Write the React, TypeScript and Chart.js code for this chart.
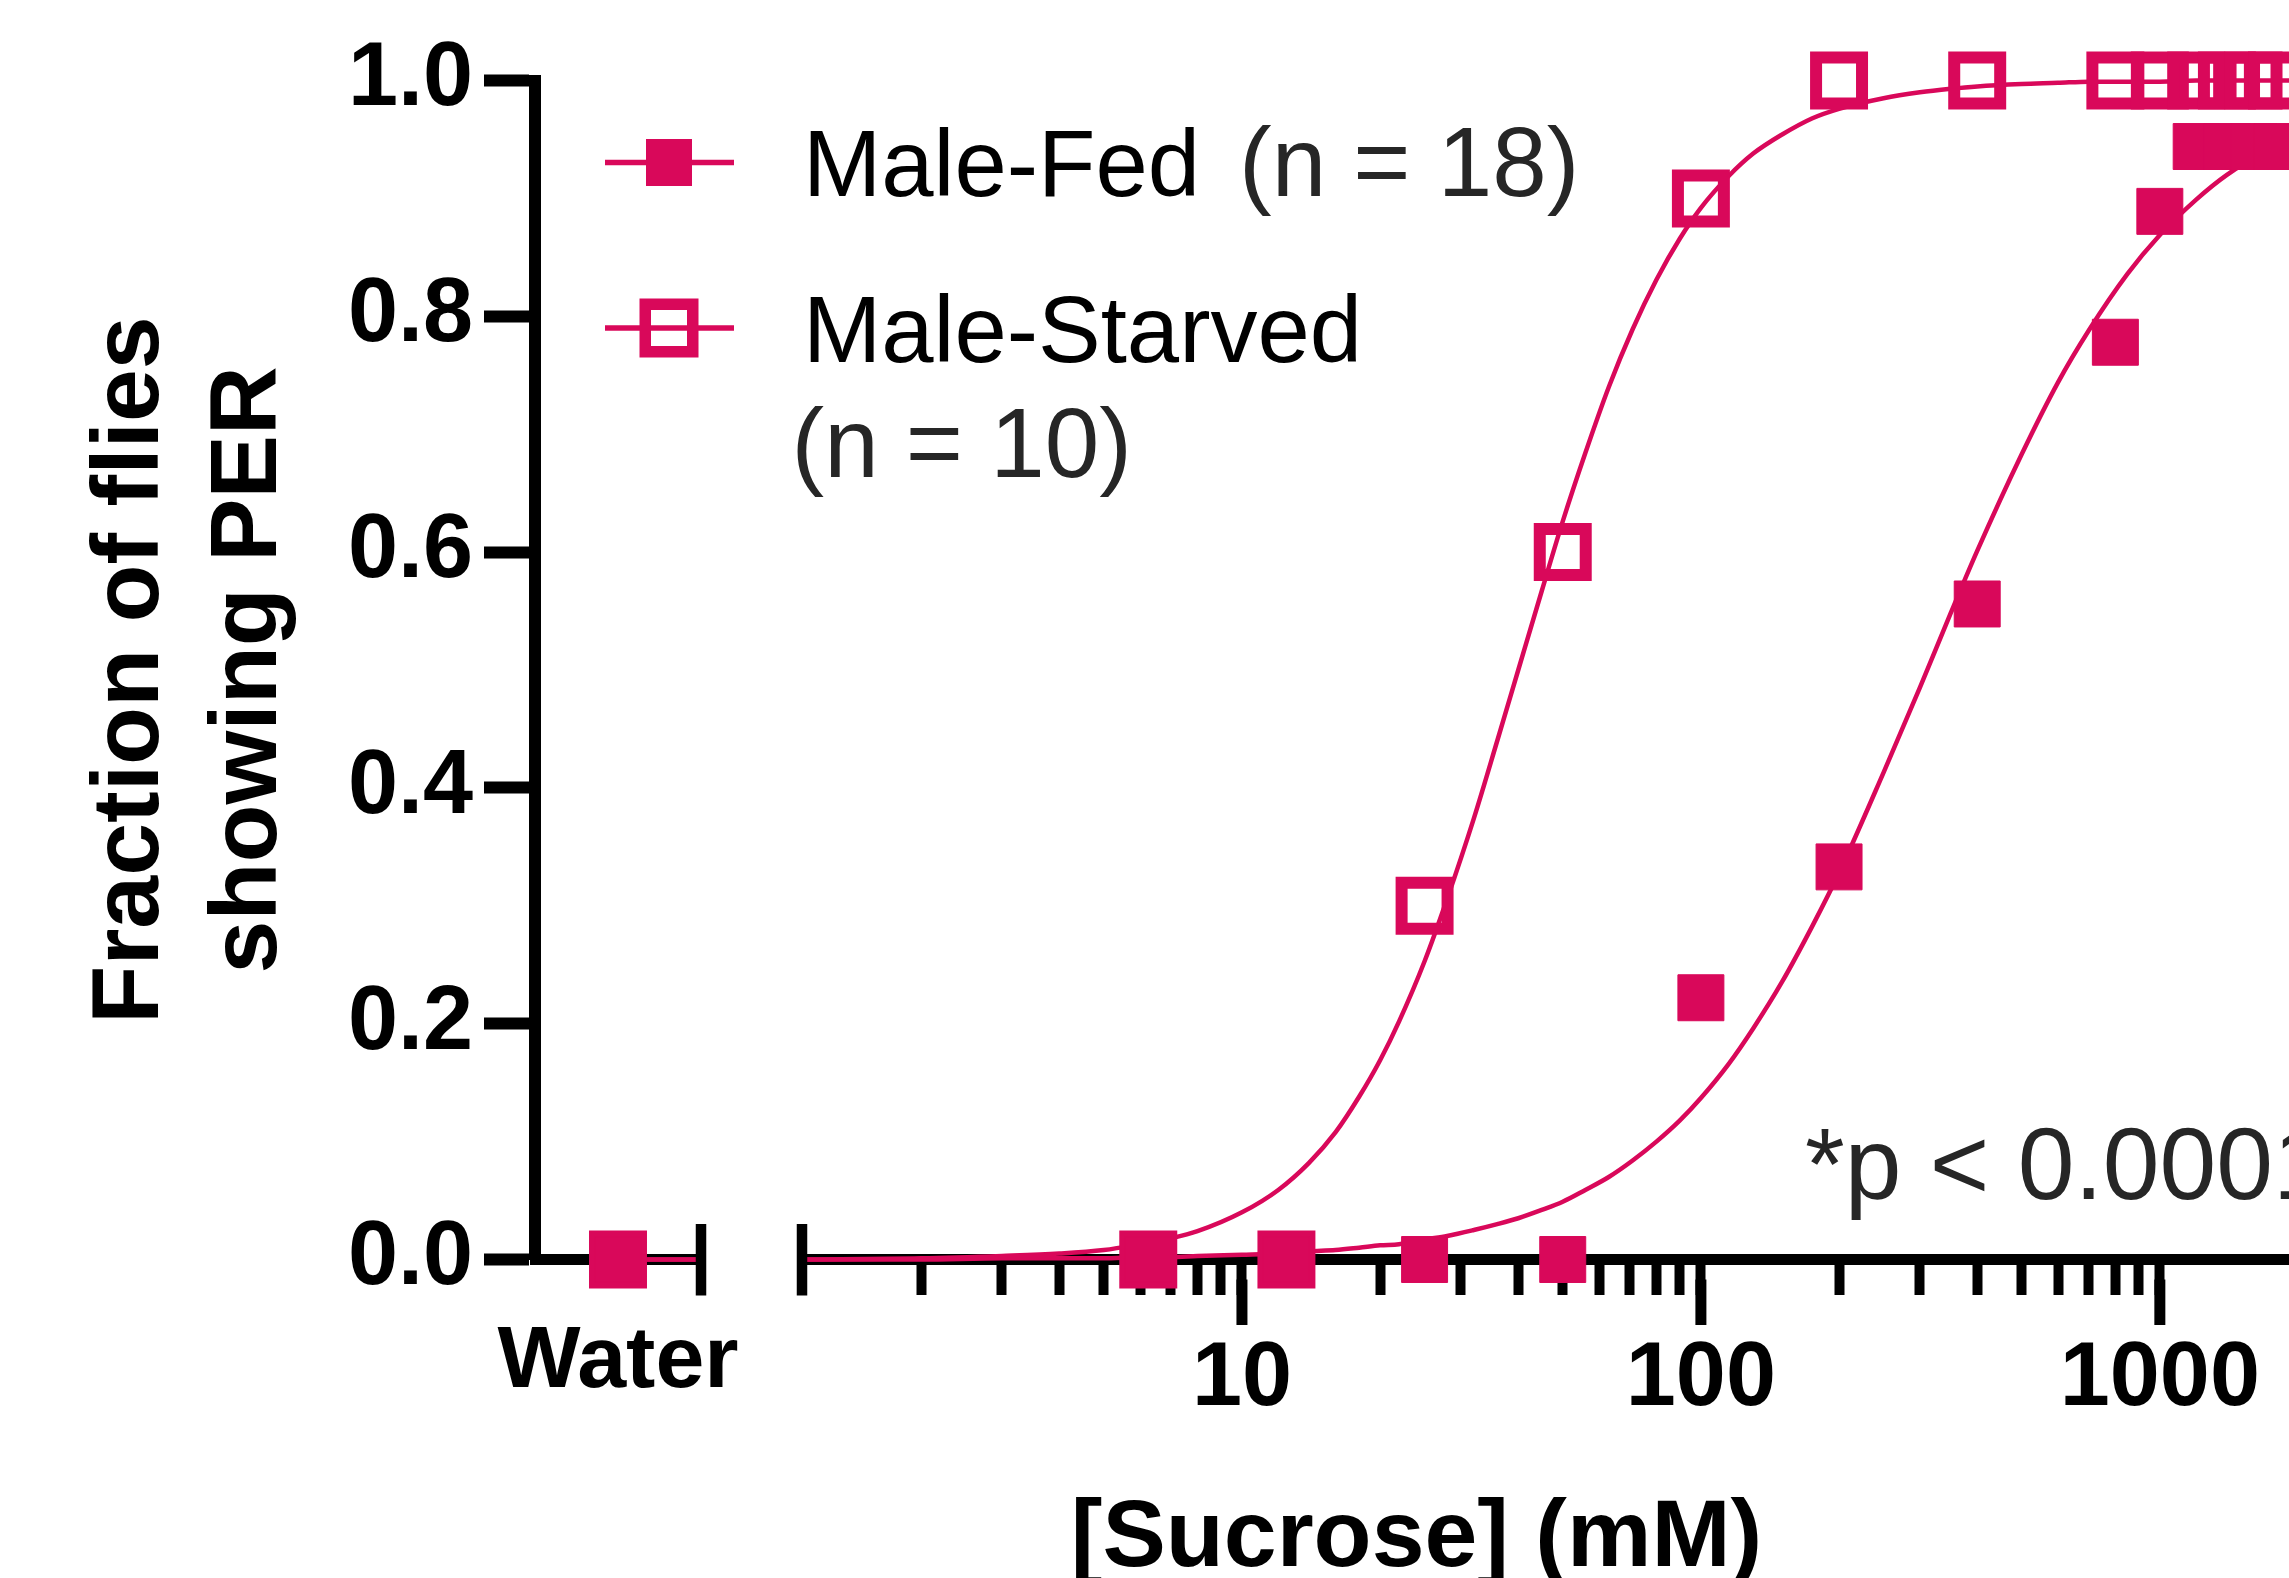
import React, { useEffect, useRef } from 'react';
import { Chart, registerables } from 'chart.js';

Chart.register(...registerables);

// ---------------- data ----------------
const WATER_LABEL = 'Water';
const WATER_POS = 1;
const FED_WATER = 0;
const STARVED_WATER = 0;

const CONC = [6.25, 12.5, 25, 50, 100, 200, 400, 800, 1000, 1200, 1400, 1600, 1800];
const FED_Y = [0, 0, 0, 0, 0.222, 0.333, 0.556, 0.778, 0.889, 0.944, 0.944, 0.944, 0.944];
const STARVED_Y = [0, 0, 0.3, 0.6, 0.9, 1, 1, 1, 1, 1, 1, 1, 1];

// fitted curves
const FIT_X = [1.1, 2, 3, 4, 5, 6, 7, 8, 10, 12, 14, 16, 18, 20, 22, 25, 28, 32, 36, 40, 45, 50, 56, 63, 71, 80, 90, 100, 115, 130, 150, 175, 200, 250, 300, 350, 400, 500, 600, 700, 850, 1000, 1200, 1400, 1700, 2000];
const STARVED_FIT = [0, 0.001, 0.003, 0.005, 0.008, 0.013, 0.018, 0.024, 0.04, 0.059, 0.082, 0.108, 0.138, 0.169, 0.202, 0.253, 0.306, 0.374, 0.44, 0.5, 0.567, 0.626, 0.684, 0.74, 0.789, 0.831, 0.866, 0.892, 0.919, 0.938, 0.954, 0.968, 0.976, 0.985, 0.99, 0.993, 0.995, 0.997, 0.998, 0.999, 0.999, 0.999, 1, 1, 1, 1];
const FED_FIT = [0, 0, 0.001, 0.001, 0.001, 0.002, 0.002, 0.003, 0.004, 0.005, 0.007, 0.008, 0.01, 0.012, 0.013, 0.017, 0.02, 0.025, 0.03, 0.035, 0.042, 0.049, 0.059, 0.07, 0.084, 0.1, 0.118, 0.137, 0.166, 0.196, 0.235, 0.283, 0.328, 0.413, 0.485, 0.548, 0.601, 0.683, 0.744, 0.788, 0.836, 0.869, 0.899, 0.92, 0.94, 0.953];
const WATER_FIT_X = [1, 2];
const FED_WATER_FIT = [0, 0];
const STARVED_WATER_FIT = [0, 0];

const LOG_TICKS = [2, 3, 4, 5, 6, 7, 8, 9, 10, 20, 30, 40, 50, 60, 70, 80, 90, 100, 200, 300, 400, 500, 600, 700, 800, 900, 1000, 2000];
const LOG_LABELS = [10, 100, 1000];
const LOG_MIN = 1.1;
const LOG_MAX = 2000;

const SERIES_NAMES = ['Male-Fed', 'Male-Starved'];
const SERIES_N = ['(n = 18)', '(n = 10)'];
const Y_TITLE = ['Fraction of flies', 'showing PER'];
const X_TITLE = '[Sucrose] (mM)';
const P_TEXT = '*p < 0.0001';

// ---------------- style ----------------
const MAGENTA = '#D9085A';
const FONT = "'Liberation Sans', Arial, Helvetica, sans-serif";
const TEXT_GRAY = '#262626';

const pts = (xs: number[], ys: number[]) => xs.map((x, i) => ({ x, y: ys[i] }));

const zeroPad = (s: any) => {
  s.paddingLeft = 0;
  s.paddingRight = 0;
  s.paddingTop = 0;
  s.paddingBottom = 0;
};

const decorPlugin = {
  id: 'decor',
  beforeDatasetsDraw(chart: any) {
    const ctx = chart.ctx;
    const xl = chart.scales.xl;
    const y0 = xl.top;
    ctx.save();
    ctx.strokeStyle = '#000';
    ctx.lineWidth = 11;
    LOG_LABELS.forEach((v) => {
      const x = xl.getPixelForValue(v);
      ctx.beginPath();
      ctx.moveTo(x, y0 + 20);
      ctx.lineTo(x, y0 + 65.5);
      ctx.stroke();
    });
    ctx.restore();
  },
  afterDatasetsDraw(chart: any) {
    const ctx = chart.ctx;
    const { xw, xl } = chart.scales;
    const area = chart.chartArea;
    const yAxis = xl.top;
    ctx.save();
    // axis break marks
    ctx.strokeStyle = '#000';
    ctx.lineWidth = 10.5;
    [xw.right, xl.left].forEach((x: number) => {
      ctx.beginPath();
      ctx.moveTo(x, yAxis - 35.5);
      ctx.lineTo(x, yAxis + 36);
      ctx.stroke();
    });

    // legend
    const lx = area.left;
    const ty = area.top;
    const rows = [ty + 82, ty + 247.5];
    rows.forEach((ry, i) => {
      ctx.strokeStyle = MAGENTA;
      ctx.lineWidth = 5.5;
      ctx.beginPath();
      ctx.moveTo(lx + 70, ry);
      ctx.lineTo(lx + 199, ry);
      ctx.stroke();
      const cx = lx + 134;
      if (i === 0) {
        ctx.fillStyle = MAGENTA;
        ctx.fillRect(cx - 23, ry - 23.5, 46, 47);
      } else {
        ctx.lineWidth = 11.5;
        ctx.strokeRect(cx - 23.75, ry - 23.75, 47.5, 47.5);
      }
    });
    ctx.textBaseline = 'alphabetic';
    ctx.textAlign = 'left';
    ctx.fillStyle = '#000';
    ctx.font = `400 94px ${FONT}`;
    ctx.fillText(SERIES_NAMES[0], lx + 268, ty + 115);
    ctx.fillText(SERIES_NAMES[1], lx + 268, ty + 281);
    ctx.fillStyle = TEXT_GRAY;
    ctx.font = `400 98px ${FONT}`;
    ctx.fillText(SERIES_N[0], lx + 704, ty + 115);
    ctx.fillText(SERIES_N[1], lx + 256.5, ty + 396.5);

    // p value
    ctx.font = `400 102px ${FONT}`;
    ctx.fillStyle = TEXT_GRAY;
    ctx.fillText(P_TEXT, lx + 1270, ty + 1118.5);

    // x axis title
    ctx.fillStyle = '#000';
    ctx.font = `700 95px ${FONT}`;
    ctx.textAlign = 'center';
    ctx.fillText(X_TITLE, (area.left + area.right) / 2, area.bottom + 306.5);
    ctx.restore();
  },
};

export default function App() {
  const ref = useRef<HTMLCanvasElement>(null);

  useEffect(() => {
    const canvas = ref.current;
    if (!canvas) return;
    const X_AXIS_H = 318.5;
    const pointCommon = { showLine: false, pointStyle: 'rect', pointRadius: 32.5, pointHoverRadius: 32.5, clip: false };
    const chart = new Chart(canvas, {
      type: 'line',
      data: {
        datasets: [
          { ...pointCommon, label: 'Male-Fed', xAxisID: 'xl', data: pts(CONC, FED_Y), pointBackgroundColor: MAGENTA, pointBorderColor: MAGENTA, pointBorderWidth: 1 },
          { ...pointCommon, label: 'Male-Starved', xAxisID: 'xl', data: pts(CONC, STARVED_Y), pointBackgroundColor: 'rgba(0,0,0,0)', pointBorderColor: MAGENTA, pointBorderWidth: 12 },
          { ...pointCommon, label: 'Male-Fed water', xAxisID: 'xw', data: [{ x: WATER_POS, y: FED_WATER }], pointBackgroundColor: MAGENTA, pointBorderColor: MAGENTA, pointBorderWidth: 1 },
          { ...pointCommon, label: 'Male-Starved water', xAxisID: 'xw', data: [{ x: WATER_POS, y: STARVED_WATER }], pointBackgroundColor: 'rgba(0,0,0,0)', pointBorderColor: MAGENTA, pointBorderWidth: 12 },
          { label: 'Fed fit', xAxisID: 'xl', data: pts(FIT_X, FED_FIT), borderColor: MAGENTA, borderWidth: 4.5, pointRadius: 0, cubicInterpolationMode: 'monotone', clip: false },
          { label: 'Starved fit', xAxisID: 'xl', data: pts(FIT_X, STARVED_FIT), borderColor: MAGENTA, borderWidth: 4.5, pointRadius: 0, cubicInterpolationMode: 'monotone', clip: false },
          { label: 'Fed fit water', xAxisID: 'xw', data: pts(WATER_FIT_X, FED_WATER_FIT), borderColor: MAGENTA, borderWidth: 4.5, pointRadius: 0, clip: false },
          { label: 'Starved fit water', xAxisID: 'xw', data: pts(WATER_FIT_X, STARVED_WATER_FIT), borderColor: MAGENTA, borderWidth: 4.5, pointRadius: 0, clip: false },
        ] as any,
      },
      options: {
        animation: false,
        responsive: false,
        devicePixelRatio: 1,
        events: [],
        layout: { autoPadding: false, padding: { left: 0, top: 80.5, right: 8, bottom: 0 } },
        plugins: { legend: { display: false }, tooltip: { enabled: false }, title: { display: false } },
        scales: {
          xw: {
            axis: 'x', type: 'linear', position: 'bottom', stack: 'x', stackWeight: 166, weight: 1,
            min: 0, max: 2,
            afterBuildTicks: (s: any) => { s.ticks = [{ value: WATER_POS }]; },
            afterFit: (s: any) => { s.height = X_AXIS_H; zeroPad(s); },
            grid: { display: false, drawTicks: false, tickLength: 0 },
            border: { display: true, color: '#000', width: 11 },
            ticks: { callback: () => WATER_LABEL, color: '#000', font: { family: FONT, size: 88, weight: 'bold' }, padding: 50, autoSkip: false, maxRotation: 0, minRotation: 0 },
          },
          xg: {
            axis: 'x', type: 'linear', position: 'bottom', stack: 'x', stackWeight: 101, weight: 2,
            display: false, min: 0, max: 1,
            afterFit: (s: any) => { s.height = X_AXIS_H; zeroPad(s); },
          },
          xl: {
            axis: 'x', type: 'logarithmic', position: 'bottom', stack: 'x', stackWeight: 1496, weight: 3,
            min: LOG_MIN, max: LOG_MAX,
            afterBuildTicks: (s: any) => { s.ticks = LOG_TICKS.map((v) => ({ value: v })); },
            afterFit: (s: any) => { s.height = X_AXIS_H; zeroPad(s); },
            grid: { display: true, drawOnChartArea: false, drawTicks: true, tickLength: 35.5, tickWidth: 10, tickColor: '#000' },
            border: { display: true, color: '#000', width: 11 },
            ticks: {
              callback: (v: any) => (LOG_LABELS.includes(Number(v)) ? String(v) : ''),
              color: '#000', font: { family: FONT, size: 90, weight: 'bold' }, padding: 31, autoSkip: false, maxRotation: 0, minRotation: 0,
            },
          },
          y: {
            type: 'linear', position: 'left', min: 0, max: 1,
            afterFit: (s: any) => { s.width = 535; zeroPad(s); },
            grid: { display: true, drawOnChartArea: false, drawTicks: true, tickLength: 51, tickWidth: 12, tickColor: '#000' },
            border: { display: true, color: '#000', width: 12 },
            ticks: { stepSize: 0.2, callback: (v: any) => Number(v).toFixed(1), color: '#000', font: { family: FONT, size: 90, weight: 'bold' }, padding: 11 },
            title: { display: true, text: Y_TITLE, color: '#000', font: { family: FONT, size: 95, weight: 'bold', lineHeight: 1.239 }, padding: { top: 73, bottom: 0 } },
          },
        } as any,
      },
      plugins: [decorPlugin],
    } as any);
    return () => chart.destroy();
  }, []);

  return (
    <div style={{ position: 'fixed', left: 0, top: 0, width: 2289, height: 1578, overflow: 'hidden', background: '#fff' }}>
      <canvas ref={ref} width={2306} height={1578} style={{ display: 'block', width: 2306, height: 1578 }} />
    </div>
  );
}
